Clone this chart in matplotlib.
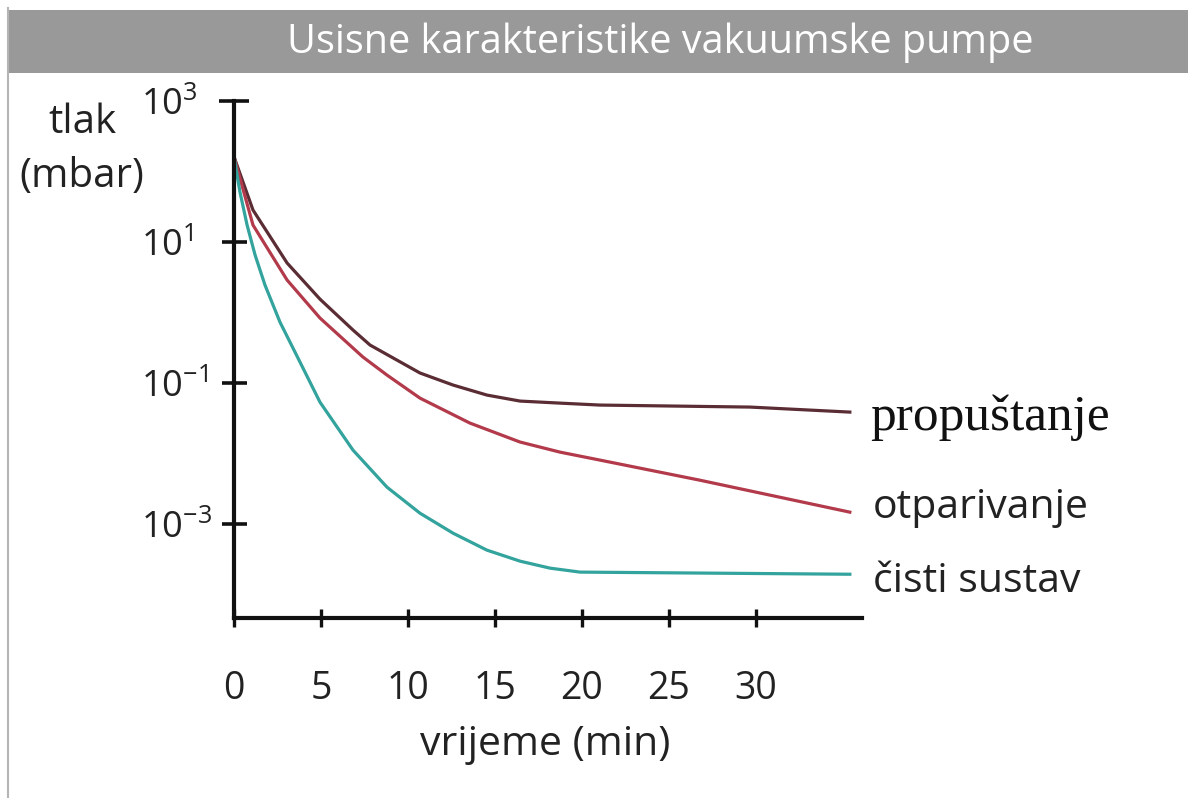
import numpy as np
import pandas as pd
import matplotlib
matplotlib.use('Agg')
import matplotlib.pyplot as plt
from matplotlib.patches import Rectangle
from matplotlib.lines import Line2D

plt.rcParams['font.family'] = ['Open Sans', 'DejaVu Sans']
plt.rcParams['mathtext.fontset'] = 'custom'
plt.rcParams['mathtext.rm'] = 'Open Sans'
plt.rcParams['mathtext.it'] = 'Open Sans'
plt.rcParams['mathtext.bf'] = 'Open Sans'

# vrijeme (min) i tlak (mbar) ocitani sa slike
t_prop = [0, 1.09, 3.05, 4.94, 6.84, 7.82, 10.69, 12.59, 14.54, 16.44, 18.74, 21.03, 29.66, 35.4]
p_prop = [161, 28.4, 5.04, 1.55, 0.565, 0.346, 0.139, 0.0938, 0.0676, 0.0556, 0.052, 0.0488, 0.0457, 0.0388]

t_otp = [0, 1.09, 3.05, 4.94, 7.41, 8.79, 10.69, 13.56, 16.44, 18.74, 21.03, 26.78, 35.4]
p_otp = [161, 17.4, 2.89, 0.836, 0.234, 0.130, 0.0612, 0.0271, 0.0146, 0.0105, 0.0081, 0.0042, 0.00148]

t_cist = [0, 0.34, 0.75, 1.21, 1.78, 2.64, 3.79, 4.94, 6.84, 8.79, 10.69, 12.59, 14.54,
          16.44, 18.16, 19.89, 35.4]
p_cist = [161, 51.2, 17.4, 6.54, 2.45, 0.733, 0.199, 0.0537, 0.0112, 0.00335, 0.00143,
          0.000745, 0.000428, 0.000299, 0.000238, 0.000209, 0.000195]

nazivi = ['propuštanje', 'otparivanje', 'čisti sustav']
boje = ['#5a2c33', '#b23a4b', '#33a39d']

x_ticks = [0, 5, 10, 15, 20, 25, 30]
y_exp = [3, 1, -1, -3]

fig = plt.figure(figsize=(11.88, 7.98), dpi=100)
fig.patch.set_facecolor('white')

# naslovna traka
fig.patches.append(Rectangle((0.0067, 0.9085), 1.0, 0.079, transform=fig.transFigure,
                             facecolor='#999999', edgecolor='none', zorder=0))
fig.lines.append(Line2D([0.0067, 0.0067], [0, 0.99], transform=fig.transFigure,
                        color='#b5b5b5', lw=1.5))
fig.text(0.556, 0.947, 'Usisne karakteristike vakuumske pumpe', color='white',
         fontsize=28.5, ha='center', va='center')

ax = fig.add_axes([0.197, 0.2256, 0.5286, 0.6479])
ax.plot(t_prop, p_prop, color=boje[0], lw=2.3)
ax.plot(t_otp, p_otp, color=boje[1], lw=2.3)
ax.plot(t_cist, p_cist, color=boje[2], lw=2.3)
ax.set_yscale('log')
ax.set_xlim(0, 36.1)
ax.set_ylim(10**-4.33, 1e3)

for s in ['top', 'right']:
    ax.spines[s].set_visible(False)
for s in ['left', 'bottom']:
    ax.spines[s].set_linewidth(3)
    ax.spines[s].set_color('#111111')

ax.set_xticks(x_ticks)
ax.set_xticklabels([str(v) for v in x_ticks])
ax.set_yticks([10.0**e for e in y_exp])
ax.set_yticklabels(['$10^{%d}$' % e for e in y_exp])
ax.yaxis.set_minor_locator(matplotlib.ticker.NullLocator())
ax.tick_params(axis='x', direction='inout', length=13, width=2.4, color='#111111',
               labelsize=27, pad=31, labelcolor='#222222')
ax.tick_params(axis='y', direction='inout', length=18, width=2.6, color='#111111',
               labelsize=26, pad=58, labelcolor='#222222')
for lab in ax.get_yticklabels():
    lab.set_horizontalalignment('left')
ax.yaxis.get_major_ticks()[0].tick1line.set_markersize(22)

ax.set_xlabel('vrijeme (min)', fontsize=29.5, color='#222222', va='center')
ax.xaxis.set_label_coords(0.495, -0.2456)
ax.set_ylabel('tlak\n(mbar)', fontsize=29, color='#222222', rotation=0,
              ha='center', va='center', linespacing=1.45)
ax.yaxis.set_label_coords(-0.242, 0.905)

# oznake krivulja
ax.text(870 / 1188, (798 - 430) / 798, nazivi[0], transform=fig.transFigure,
        fontsize=37, family=['Liberation Serif', 'DejaVu Serif'], color='#111111',
        va='baseline', ha='left')
ax.text(873 / 1188, (798 - 518) / 798, nazivi[1], transform=fig.transFigure,
        fontsize=29.5, color='#222222', va='baseline', ha='left')
ax.text(873 / 1188, (798 - 592) / 798, nazivi[2], transform=fig.transFigure,
        fontsize=29.5, color='#222222', va='baseline', ha='left')

fig.savefig('out.png', dpi=100)
